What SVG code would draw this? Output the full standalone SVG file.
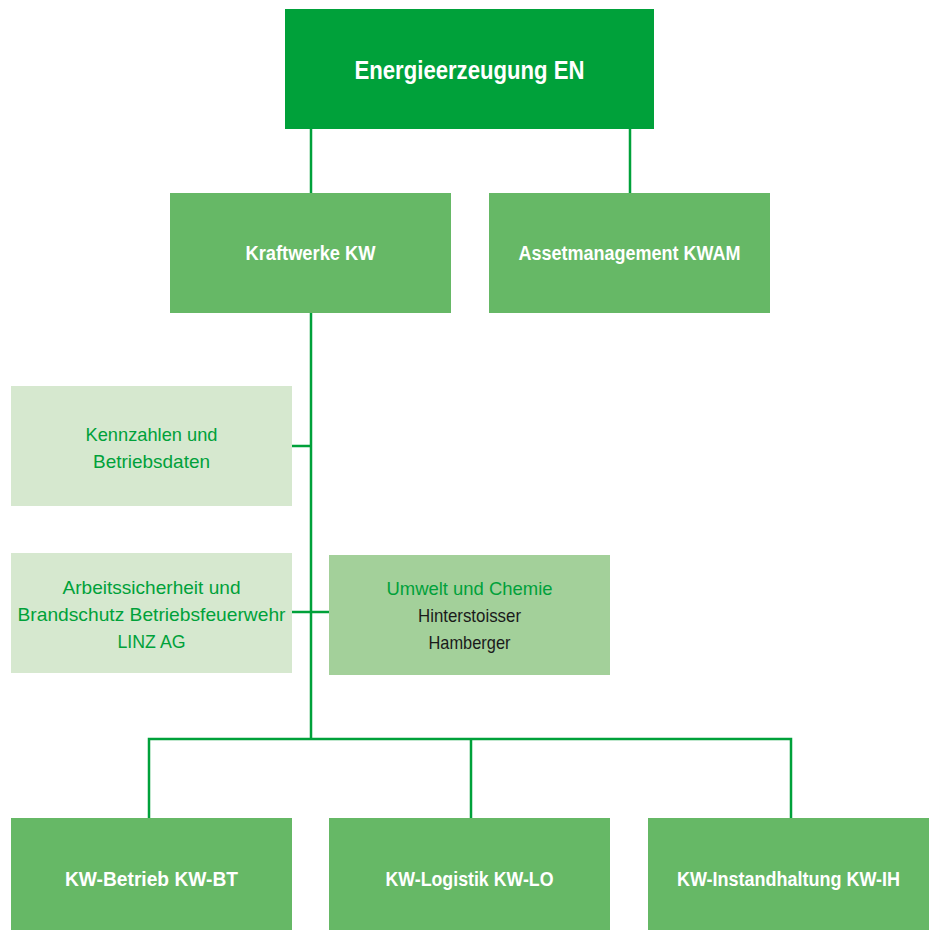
<svg xmlns="http://www.w3.org/2000/svg" width="933" height="930" viewBox="0 0 933 930">
<style>
.dark{fill:#00A13A}
.mid{fill:#66B866}
.light{fill:#D6E8CF}
.soft{fill:#A3D09A}
text{font-family:"Liberation Sans",Arial,sans-serif;text-anchor:middle}
.tw{fill:#fff;font-weight:bold;font-size:20px}
.tg{fill:#00A13A;font-size:19px}
.tk{fill:#1a1a1a;font-size:19px}
.con{stroke:#00A13A;stroke-width:2.5;fill:none}
</style>
<rect width="933" height="930" fill="#fff"/>
<g id="connectors" class="con">
<path d="M311 129V193M630 129V193"/>
<path d="M311 313V739"/>
<path d="M292 446H311M292 612H329"/>
<path d="M149 818V739H791V818M471 739V818"/>
</g>
<g id="en"><rect class="dark" x="285" y="9" width="369" height="120"/><text class="tw" x="469.5" y="79" style="font-size:26px" textLength="230" lengthAdjust="spacingAndGlyphs">Energieerzeugung EN</text></g>
<g id="kw"><rect class="mid" x="170" y="193" width="281" height="120"/><text class="tw" x="310.5" y="260" textLength="130" lengthAdjust="spacingAndGlyphs">Kraftwerke KW</text></g>
<g id="kwam"><rect class="mid" x="489" y="193" width="281" height="120"/><text class="tw" x="629.5" y="260" textLength="222" lengthAdjust="spacingAndGlyphs">Assetmanagement KWAM</text></g>
<g id="kennzahlen"><rect class="light" x="11" y="386" width="281" height="120"/><text class="tg" x="151.5" y="441" textLength="132" lengthAdjust="spacingAndGlyphs">Kennzahlen und</text><text class="tg" x="151.5" y="468" textLength="117" lengthAdjust="spacingAndGlyphs">Betriebsdaten</text></g>
<g id="arbeitssicherheit"><rect class="light" x="11" y="553" width="281" height="120"/><text class="tg" x="151.5" y="594" textLength="178" lengthAdjust="spacingAndGlyphs">Arbeitssicherheit und</text><text class="tg" x="151.5" y="621" textLength="268" lengthAdjust="spacingAndGlyphs">Brandschutz Betriebsfeuerwehr</text><text class="tg" x="151.5" y="648" textLength="68" lengthAdjust="spacingAndGlyphs">LINZ AG</text></g>
<g id="umwelt"><rect class="soft" x="329" y="555" width="281" height="120"/><text class="tg" x="469.5" y="595" textLength="166" lengthAdjust="spacingAndGlyphs">Umwelt und Chemie</text><text class="tk" x="469.5" y="622" textLength="103" lengthAdjust="spacingAndGlyphs">Hinterstoisser</text><text class="tk" x="469.5" y="649" textLength="82" lengthAdjust="spacingAndGlyphs">Hamberger</text></g>
<g id="kwbt"><rect class="mid" x="11" y="818" width="281" height="112"/><text class="tw" x="151.5" y="886" textLength="173" lengthAdjust="spacingAndGlyphs">KW-Betrieb KW-BT</text></g>
<g id="kwlo"><rect class="mid" x="329" y="818" width="281" height="112"/><text class="tw" x="469.5" y="886" textLength="168" lengthAdjust="spacingAndGlyphs">KW-Logistik KW-LO</text></g>
<g id="kwih"><rect class="mid" x="648" y="818" width="281" height="112"/><text class="tw" x="788.5" y="886" textLength="223" lengthAdjust="spacingAndGlyphs">KW-Instandhaltung KW-IH</text></g>
</svg>
